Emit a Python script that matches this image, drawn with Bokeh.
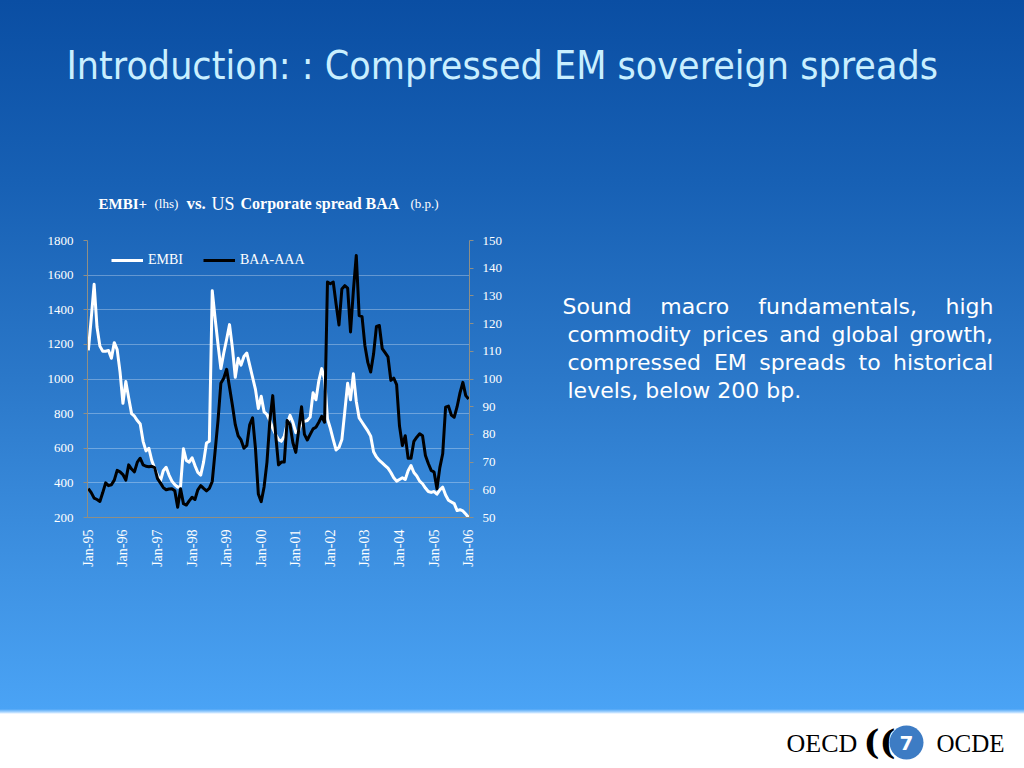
import math
from bokeh.plotting import figure
from bokeh.layouts import column, row
from bokeh.models import (LinearAxis, Range1d, FixedTicker, Legend, LegendItem,
                          GlobalInlineStyleSheet)
from bokeh.core.properties import value
from bokeh.embed import file_html
from bokeh.resources import INLINE

# ---------------- data ----------------
tick_labels = ["Jan-95", "Jan-96", "Jan-97", "Jan-98", "Jan-99", "Jan-00",
               "Jan-01", "Jan-02", "Jan-03", "Jan-04", "Jan-05", "Jan-06"]

# EMBI+ spread (b.p., left axis), monthly Jan-95 .. Jan-06
embi = [1165, 1350, 1547, 1300, 1190, 1160, 1160, 1165, 1120, 1210, 1170, 1040,
        860, 985, 890, 800, 785, 760, 740, 640, 585, 600, 530, 485,
        445, 410, 470, 490, 445, 410, 390, 375, 380, 597, 530, 520,
        545, 500, 460, 445, 520, 630, 640, 1510, 1350, 1200, 1060, 1150,
        1230, 1314, 1180, 1010, 1120, 1080, 1130, 1150, 1080, 1010, 940, 830,
        900, 810, 795, 760, 715, 680, 650, 640, 670, 740, 790, 750,
        690, 700, 750, 755, 760, 780, 920, 880, 990, 1060, 1000, 770,
        715, 650, 590, 605, 650, 810, 975, 880, 1030, 870, 775, 750,
        725, 700, 670, 580, 550, 530, 515, 500, 485, 460, 430, 410,
        420, 430, 420, 470, 500, 460, 440, 410, 395, 370, 350, 345,
        350, 335, 360, 375, 330, 300, 290, 280, 240, 245, 238, 220,
        200]

# BAA-AAA corporate spread (b.p., right axis)
baa_aaa = [60.4, 59.0, 57.0, 56.5, 55.8, 59.0, 62.5, 61.5, 61.8, 63.5, 67.0, 66.5,
           65.5, 63.5, 69.0, 67.5, 66.5, 70.0, 71.4, 69.0, 68.5, 68.3, 68.5, 68.0,
           64.0, 62.5, 60.8, 60.0, 60.3, 60.4, 59.7, 53.7, 60.4, 55.0, 54.5, 56.0,
           57.3, 56.5, 60.0, 61.5, 60.5, 59.6, 60.5, 63.0, 74.0, 85.0, 98.5, 100.3,
           103.5, 97.0, 90.5, 83.5, 79.5, 78.0, 75.0, 76.0, 83.5, 86.0, 75.0, 58.5,
           55.7, 61.0, 70.0, 85.0, 94.0, 80.0, 69.0, 70.0, 70.0, 85.0, 83.5, 77.0,
           73.5, 81.5, 90.0, 80.0, 78.0, 80.0, 82.0, 82.6, 84.4, 86.5, 84.4, 135.0,
           134.4, 135.0, 127.0, 119.5, 132.5, 133.7, 132.8, 117.0, 132.0, 144.6, 122.9, 122.5,
           112.0, 106.0, 102.5, 109.0, 119.0, 119.3, 111.0, 109.5, 108.0, 99.5, 100.3, 98.0,
           83.0, 76.0, 79.5, 71.4, 71.4, 77.5, 79.0, 80.2, 79.5, 72.4, 69.5, 67.0,
           66.4, 60.4, 68.0, 73.0, 89.8, 90.2, 87.0, 86.2, 90.0, 95.0, 98.8, 94.0,
           92.8]

left_ticks = [200, 400, 600, 800, 1000, 1200, 1400, 1600, 1800]
right_ticks = [50, 60, 70, 80, 90, 100, 110, 120, 130, 140, 150]

series_names = ["EMBI", "BAA-AAA"]

title_text = "Introduction: : Compressed EM sovereign spreads"
chart_title_parts = ["EMBI+", "(lhs)", "vs.", "US", "Corporate spread BAA", "(b.p.)"]
bullet_lines = [["Sound", "macro", "fundamentals,", "high"],
                ["commodity", "prices", "and", "global", "growth,"],
                ["compressed", "EM", "spreads", "to", "historical"],
                ["levels, below 200 bp."]]

month = list(range(len(embi)))
tick_months = [12 * i for i in range(len(tick_labels))]

# ---------------- layout constants (page pixels) ----------------
TOTAL_W = 1016
TOP_H = 225            # title band: y 0..225
MID_H = 365            # chart row:  y 225..590
BOT_H = 170            # footer:     y 590..760
CHART_W = 520
FL, FR, FT, FB = 87, 469, 240, 517      # chart frame edges
SERIF = "Liberation Serif"
AXIS_COL = "#8f8f86"

# approximate DejaVu Sans advance widths (em) used for justifying the bullet text
DV = {'a': .613, 'b': .635, 'c': .550, 'd': .635, 'e': .615, 'f': .352, 'g': .635,
      'h': .634, 'i': .278, 'l': .278, 'm': .974, 'n': .634, 'o': .612, 'p': .635,
      'r': .411, 's': .521, 't': .392, 'u': .634, 'v': .592, 'w': .818, 'y': .592,
      'S': .635, 'E': .632, 'M': .863, '0': .636, '2': .636, ',': .318, '.': .318, ' ': .318}


def dv_width(word, size):
    return sum(DV.get(ch, 0.6) for ch in word) * size


def deco(w, h, x0, y0, y1=None, border_top=0, border_bottom=0):
    """Transparent figure whose data coordinates are page pixels."""
    if y1 is None:
        y1 = y0 + h
    f = figure(width=w, height=h, output_backend="svg", toolbar_location=None,
               title=None, x_range=Range1d(x0, x0 + w), y_range=Range1d(y1, y0),
               min_border=0, min_border_top=border_top, min_border_bottom=border_bottom,
               x_axis_type=None, y_axis_type=None)
    f.grid.visible = False
    f.outline_line_color = None
    f.background_fill_color = None
    f.border_fill_color = None
    return f


def txt(f, t, x, y, size, font, color="white", style="normal", align="left"):
    # y is the vertical middle of the text
    f.text(x=[x], y=[y], text=[t], text_font=value(font), text_font_size=value(f"{size}px"),
           text_font_style=style, text_color=color, text_align=align,
           text_baseline="middle")


# ---------------- top band: slide title + chart title ----------------
top = deco(TOTAL_W, TOP_H, 0, 0)
txt(top, title_text, 66, 65, 39, "DejaVu Sans Condensed", color="#c9efff")
ct_x = [98, 154, 186, 211, 240, 410]
ct_style = ["bold", "normal", "bold", "normal", "bold", "normal"]
ct_size = [15, 13, 17, 18, 16, 13]
for t, x, st, sz in zip(chart_title_parts, ct_x, ct_style, ct_size):
    txt(top, t, x, 203, sz, SERIF, style=st)

# ---------------- chart ----------------
p = figure(width=CHART_W, height=MID_H, output_backend="svg", toolbar_location=None,
           title=None, x_range=Range1d(-0.3, 132.3), y_range=Range1d(200, 1800),
           min_border_left=FL, min_border_right=CHART_W - FR,
           min_border_top=FT - TOP_H, min_border_bottom=TOP_H + MID_H - FB)
p.background_fill_color = None
p.border_fill_color = None
p.outline_line_color = None

xa = p.xaxis[0]
xa.ticker = FixedTicker(ticks=tick_months)
xa.major_label_overrides = {m: l for m, l in zip(tick_months, tick_labels)}
xa.major_label_orientation = math.pi / 2
xa.major_tick_in = 0
xa.major_tick_out = 0
xa.minor_tick_line_color = None
xa.axis_line_color = AXIS_COL
xa.major_label_standoff = 12
xa.major_label_text_color = "white"
xa.major_label_text_font = SERIF
xa.major_label_text_font_size = "14px"

ya = p.yaxis[0]
ya.ticker = FixedTicker(ticks=left_ticks)
ya.major_tick_in = 0
ya.major_tick_out = 4
ya.minor_tick_line_color = None
ya.axis_line_color = AXIS_COL
ya.major_tick_line_color = AXIS_COL
ya.major_label_standoff = 10
ya.major_label_text_color = "white"
ya.major_label_text_font = SERIF
ya.major_label_text_font_size = "13px"

p.extra_y_ranges = {"baa": Range1d(50, 150)}
ra = LinearAxis(y_range_name="baa", ticker=FixedTicker(ticks=right_ticks))
ra.major_tick_in = 0
ra.major_tick_out = 4
ra.minor_tick_line_color = None
ra.axis_line_color = AXIS_COL
ra.major_tick_line_color = AXIS_COL
ra.major_label_standoff = 9
ra.major_label_text_color = "white"
ra.major_label_text_font = SERIF
ra.major_label_text_font_size = "13px"
p.add_layout(ra, "right")

p.xgrid.grid_line_color = None
p.ygrid.ticker = FixedTicker(ticks=left_ticks)
p.ygrid.grid_line_color = "white"
p.ygrid.grid_line_alpha = 0.3

r1 = p.line(month, embi, line_color="white", line_width=3, line_join="round")
r2 = p.line(month, baa_aaa, line_color="black", line_width=3, line_join="round",
            y_range_name="baa")

legend = Legend(items=[LegendItem(label=series_names[0], renderers=[r1]),
                       LegendItem(label=series_names[1], renderers=[r2])],
                orientation="horizontal", location=(24, 247),
                glyph_width=32, glyph_height=20, label_standoff=5, spacing=20,
                padding=0, margin=0, border_line_color=None,
                background_fill_alpha=0,
                label_text_color="white", label_text_font=SERIF,
                label_text_font_size="14px")
p.add_layout(legend)

# ---------------- right text panel (justified); frame aligned with chart frame ----------------
side = deco(TOTAL_W - CHART_W, MID_H, CHART_W, FT, y1=FB,
            border_top=FT - TOP_H, border_bottom=TOP_H + MID_H - FB)
FS = 22
line_left = [562, 567, 567, 567]
line_right = 993
line_mid = [306, 334, 362, 390]
for i, (words, x0, ym) in enumerate(zip(bullet_lines, line_left, line_mid)):
    widths = [dv_width(w, FS) for w in words]
    if i < len(bullet_lines) - 1 and len(words) > 1:
        gap = (line_right - x0 - sum(widths)) / (len(words) - 1)
    else:
        gap = DV[' '] * FS
    x = x0
    for w, wd in zip(words, widths):
        txt(side, w, x, ym, FS, "DejaVu Sans")
        x += wd + gap

# ---------------- footer ----------------
foot = deco(TOTAL_W, BOT_H, 0, TOP_H + MID_H)
txt(foot, "OECD", 786, 743, 26, SERIF, color="black")
txt(foot, "OCDE", 936, 743, 25, SERIF, color="black")
txt(foot, "((", 863, 741, 34, "DejaVu Serif", color="black", style="bold")
foot.scatter(x=[906], y=[742], marker="circle", size=34, fill_color="#3d7cc4",
             line_color=None)
foot.text(x=[906], y=[742], text=["7"], text_font=value("DejaVu Sans"),
          text_font_size=value("20px"), text_font_style="bold", text_color="white",
          text_align="center", text_baseline="middle")

page = column(top, row(p, side), foot)
page.stylesheets = [GlobalInlineStyleSheet(css="""
html { height: 100%; background: linear-gradient(to bottom,
   #0a4ea3 0px, #1760b4 180px, #2b78c9 380px, #3f93e4 580px, #4aa3f5 709px,
   #a6d4ff 712px, #ffffff 714px, #ffffff 768px) no-repeat; background-color:#ffffff; }
body { background: transparent; }
""")]

open("out.html", "w").write(file_html(page, INLINE))
